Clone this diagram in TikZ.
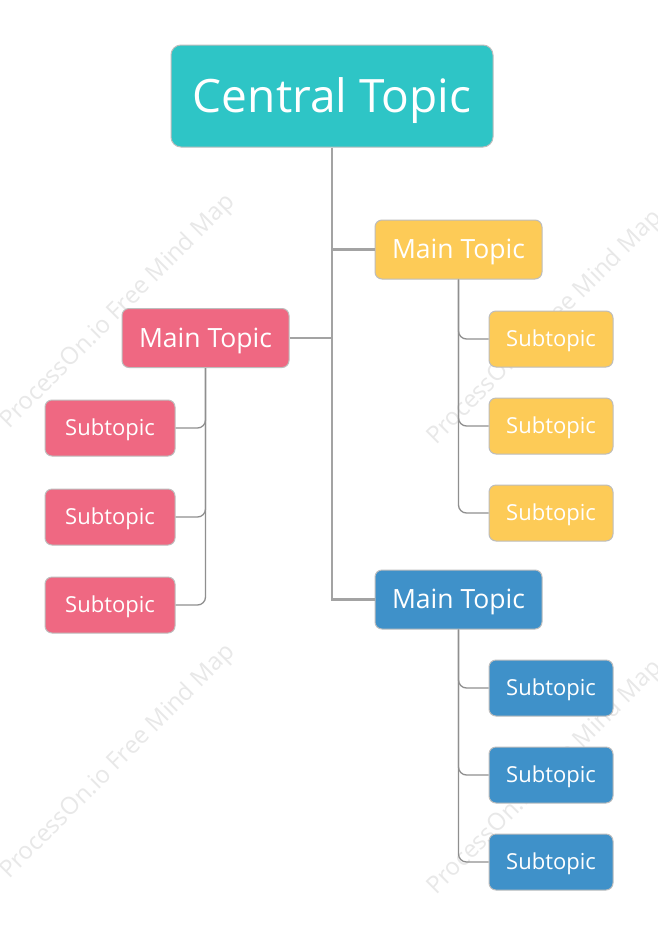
\documentclass[tikz,border=0pt]{standalone}
\usepackage{fontspec}
\setmainfont{Open Sans}
\definecolor{teal0}{HTML}{2EC5C6}
\definecolor{yel}{HTML}{FDCB57}
\definecolor{pnk}{HTML}{EF6882}
\definecolor{blu}{HTML}{3F91C9}
\definecolor{bord}{HTML}{BDBDBD}
\definecolor{trunkc}{HTML}{A3A3A3}
\definecolor{branchc}{HTML}{8F8F8F}
\definecolor{wm}{HTML}{E8E8E8}
\begin{document}
\begin{tikzpicture}[x=1pt,y=-1pt,
  box/.style={draw=bord,line width=1pt,text=white,inner sep=0pt,rounded corners=7pt,text depth=0pt},
  central/.style={box,fill=teal0,rounded corners=10pt,minimum width=322pt,minimum height=102pt,font=\fontsize{46}{50}\selectfont,text height=32.8pt},
  maintopic/.style={box,minimum width=167pt,minimum height=59pt,font=\fontsize{26.5}{30}\selectfont,text height=18.9pt},
  subl/.style={box,fill=pnk,minimum width=130pt,minimum height=56pt,font=\fontsize{22}{26}\selectfont,text height=15.7pt},
  subr/.style={box,minimum width=124pt,minimum height=56pt,font=\fontsize{22}{26}\selectfont,text height=15.7pt},
  trunk/.style={draw=trunkc,line width=2.8pt},
  branch/.style={draw=branchc,line width=1.3pt,rounded corners=8pt},
  wmark/.style={rotate=45,text=wm,font=\fontsize{24}{28}\selectfont}]
\useasboundingbox (0,0) rectangle (658,951);
\fill[white] (0,0) rectangle (658,951);
\begin{scope}
\clip (0,0) rectangle (658,951);
\node[wmark] (w1) at (118,312) {ProcessOn.io Free Mind Map};
\node[wmark] (w2) at (118,762) {ProcessOn.io Free Mind Map};
\node[wmark] (w3) at (545,328) {ProcessOn.io Free Mind Map};
\node[wmark] (w4) at (545,778) {ProcessOn.io Free Mind Map};
\end{scope}

\node[central] (c) at (332,96) {Central Topic};
\node[maintopic,fill=yel] (ym) at (458.5,249.5) {Main Topic};
\node[maintopic,fill=pnk] (pm) at (205.5,338) {Main Topic};
\node[maintopic,fill=blu] (bm) at (458.5,599.5) {Main Topic};

\node[subl] (p1) at (110,428) {Subtopic};
\node[subl] (p2) at (110,517) {Subtopic};
\node[subl] (p3) at (110,605) {Subtopic};

\node[subr,fill=yel] (y1) at (551,339) {Subtopic};
\node[subr,fill=yel] (y2) at (551,426) {Subtopic};
\node[subr,fill=yel] (y3) at (551,513) {Subtopic};

\node[subr,fill=blu] (b1) at (551,688) {Subtopic};
\node[subr,fill=blu] (b2) at (551,775) {Subtopic};
\node[subr,fill=blu] (b3) at (551,862) {Subtopic};

\path[trunk] (c.south) -- (c.south |- bm.west) -- (bm.west);
\path[trunk] (c.south |- ym.west) -- (ym.west);
\path[trunk] (pm.east) -- (c.south |- pm.east);

\path[branch] (pm.south) |- (p1.east);
\path[branch] (pm.south) |- (p2.east);
\path[branch] (pm.south) |- (p3.east);
\path[branch] (ym.south) |- (y1.west);
\path[branch] (ym.south) |- (y2.west);
\path[branch] (ym.south) |- (y3.west);
\path[branch] (bm.south) |- (b1.west);
\path[branch] (bm.south) |- (b2.west);
\path[branch] (bm.south) |- (b3.west);
\end{tikzpicture}
\end{document}
